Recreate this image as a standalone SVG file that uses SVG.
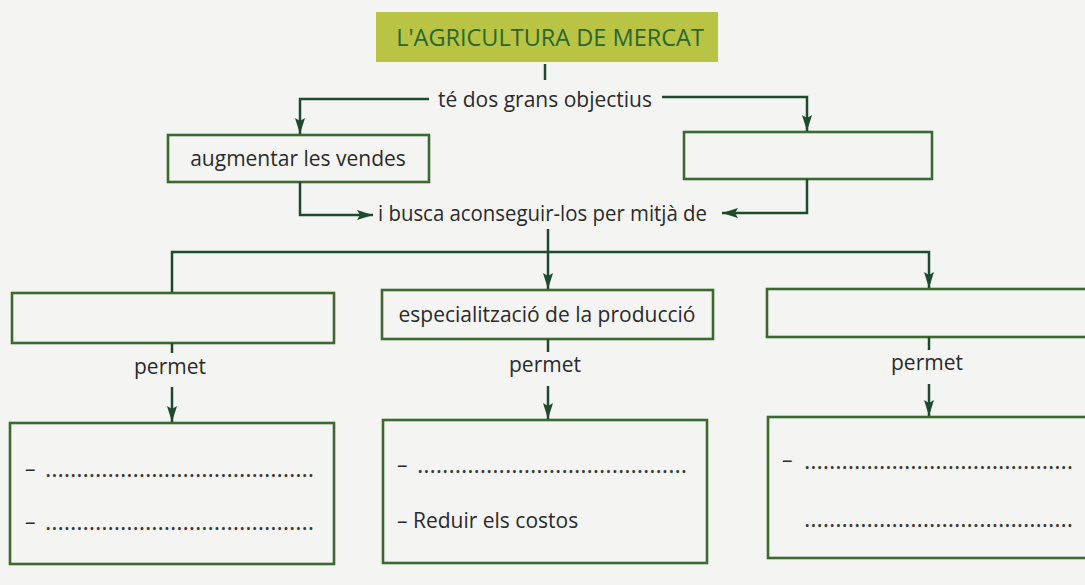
<svg xmlns="http://www.w3.org/2000/svg" width="1085" height="585" viewBox="0 0 1085 585">
<style>
  .t { font-family: "Open Sans", "Noto Sans", "Liberation Sans", sans-serif; font-size: 21px; fill: #2a2a2a; }
  .dots { font-family: "Open Sans", "Noto Sans", "Liberation Sans", sans-serif; font-size: 24px; fill: #3a3a3a; }
  .title { font-family: "Open Sans", "Noto Sans", "Liberation Sans", sans-serif; font-size: 23.5px; fill: #2a662e; }
  .box { fill: none; stroke: #3b6a2c; stroke-width: 2.6; }
  .conn { fill: none; stroke: #1f4a2e; stroke-width: 2.5; }
</style>
<defs>
  <marker id="ah" markerUnits="userSpaceOnUse" markerWidth="16" markerHeight="10" refX="16" refY="5" orient="auto">
    <path d="M0,0 L16,5 L0,10 L3,5 z" fill="#1f4a2e"/>
  </marker>
</defs>
<rect x="0" y="0" width="1085" height="585" fill="#f4f4f3"/>

<g id="title">
  <rect x="376" y="12" width="342" height="50" fill="#b9c444"/>
  <text class="title" x="550" y="46" text-anchor="middle">L'AGRICULTURA DE MERCAT</text>
</g>

<g id="label-objectius">
  <text class="t" x="545" y="107" text-anchor="middle">té dos grans objectius</text>
</g>

<g id="objectiu1">
  <rect class="box" x="168" y="135" width="261" height="47"/>
  <text class="t" x="298" y="166" text-anchor="middle">augmentar les vendes</text>
</g>

<g id="objectiu2">
  <rect class="box" x="684" y="132" width="248" height="47"/>
</g>

<g id="label-busca">
  <text class="t" x="378" y="221" textLength="329" lengthAdjust="spacingAndGlyphs">i busca aconseguir-los per mitjà de</text>
</g>

<g id="mitja1">
  <rect class="box" x="12" y="293" width="322" height="50"/>
</g>
<g id="mitja2">
  <rect class="box" x="382" y="290" width="331" height="49"/>
  <text class="t" x="547" y="322" text-anchor="middle">especialització de la producció</text>
</g>
<g id="mitja3">
  <rect class="box" x="767" y="289" width="330" height="48"/>
</g>

<g id="permet-labels">
  <text class="t" x="170" y="374" text-anchor="middle">permet</text>
  <text class="t" x="545" y="372" text-anchor="middle">permet</text>
  <text class="t" x="927" y="370" text-anchor="middle">permet</text>
</g>

<g id="resultat1">
  <rect class="box" x="10" y="423" width="324" height="141"/>
  <text class="t" x="25" y="476">–</text>
  <text class="dots" x="45" y="477" textLength="269" lengthAdjust="spacing">...........................................</text>
  <text class="t" x="25" y="529">–</text>
  <text class="dots" x="45" y="530" textLength="269" lengthAdjust="spacing">...........................................</text>
</g>
<g id="resultat2">
  <rect class="box" x="383" y="420" width="324" height="143"/>
  <text class="t" x="397" y="472">–</text>
  <text class="dots" x="417" y="473" textLength="270" lengthAdjust="spacing">...........................................</text>
  <text class="t" x="397" y="528">– Reduir els costos</text>
</g>
<g id="resultat3">
  <rect class="box" x="768" y="417" width="330" height="141"/>
  <text class="t" x="782" y="467">–</text>
  <text class="dots" x="804" y="469" textLength="269" lengthAdjust="spacing">...........................................</text>
  <text class="dots" x="804" y="527" textLength="269" lengthAdjust="spacing">...........................................</text>
</g>

<g id="connectors">
  <path class="conn" d="M545,64 V80"/>
  <path class="conn" d="M429,99 H300 V134" marker-end="url(#ah)"/>
  <path class="conn" d="M662,97 H807 V131" marker-end="url(#ah)"/>
  <path class="conn" d="M300,182 V215 H373" marker-end="url(#ah)"/>
  <path class="conn" d="M807,179 V213 H722" marker-end="url(#ah)"/>
  <path class="conn" d="M548,229 V289" marker-end="url(#ah)"/>
  <path class="conn" d="M172,292 V252 H929 V288" marker-end="url(#ah)"/>
  <path class="conn" d="M172,343 V353"/>
  <path class="conn" d="M172,387 V422" marker-end="url(#ah)"/>
  <path class="conn" d="M548,339 V352"/>
  <path class="conn" d="M548,386 V419" marker-end="url(#ah)"/>
  <path class="conn" d="M929,337 V350"/>
  <path class="conn" d="M929,384 V416" marker-end="url(#ah)"/>
</g>
</svg>
